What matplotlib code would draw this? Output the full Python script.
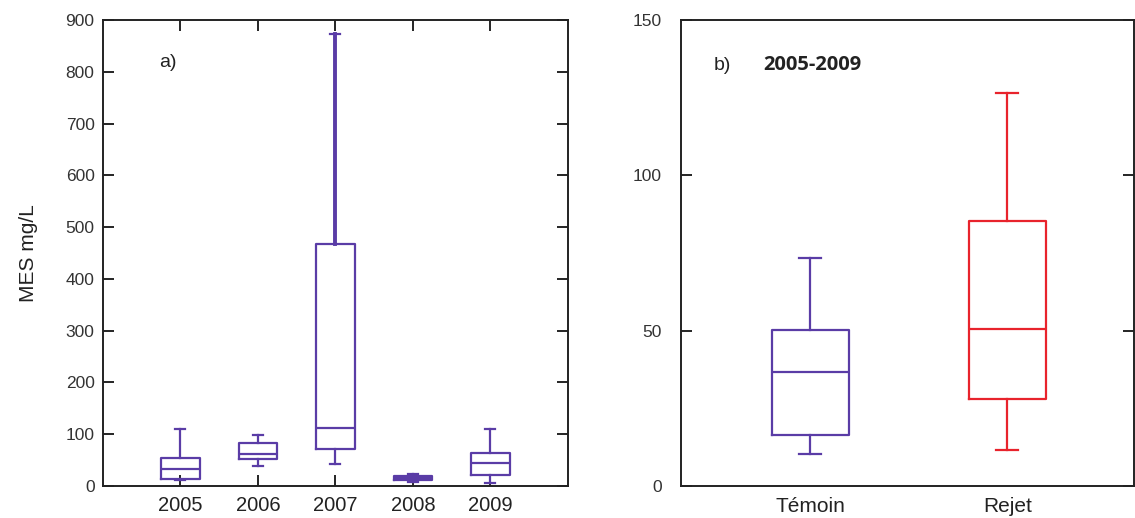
import matplotlib
matplotlib.use("Agg")
import matplotlib.pyplot as plt

# ---- data ----
years = ["2005", "2006", "2007", "2008", "2009"]
a_whislo = [11, 39, 43, 8, 5]
a_q1 = [14, 52, 71, 11, 21]
a_med = [33, 61, 112, 15, 44]
a_q3 = [54, 83, 468, 19, 64]
a_whishi = [111, 98, 872, 24, 111]

groups = ["Témoin", "Rejet"]
b_whislo = [10.2, 11.5]
b_q1 = [16.3, 28.1]
b_med = [36.7, 50.5]
b_q3 = [50.2, 85.4]
b_whishi = [73.3, 126.6]

purple = "#5a3ca6"
red = "#e8232c"

plt.rcParams['font.family'] = ['Liberation Sans', 'DejaVu Sans']

fig = plt.figure(figsize=(11.35, 5.18), dpi=100)
axa = fig.add_axes([0.0907, 0.0618, 0.4097, 0.8996])
axb = fig.add_axes([0.600, 0.0618, 0.3995, 0.8996])


def stats(lo, q1, med, q3, hi, labels):
    return [dict(whislo=l, q1=a, med=m, q3=b, whishi=h, label=lab, fliers=[])
            for l, a, m, b, h, lab in zip(lo, q1, med, q3, hi, labels)]


# ---- panel a ----
sa = stats(a_whislo, a_q1, a_med, a_q3, a_whishi, years)
posa = list(range(1, len(years) + 1))
res = axa.bxp(sa, positions=posa, widths=0.5, showfliers=False, capwidths=0.13,
              boxprops=dict(color=purple, lw=1.6),
              medianprops=dict(color=purple, lw=1.6),
              whiskerprops=dict(color=purple, lw=1.6),
              capprops=dict(color=purple, lw=1.6))
# the long upper whisker of 2007 is drawn heavier in the original
res['whiskers'][2 * 2 + 1].set_linewidth(2.8)
axa.set_xlim(0, 6)
axa.set_ylim(0, 900)
axa.set_yticks(range(0, 901, 100))
axa.set_xticks(posa)
axa.set_xticklabels(years, fontsize=14.5, color="#222222")
axa.tick_params(axis='y', labelsize=12.5, labelcolor="#333333")
axa.tick_params(direction='in', length=8, width=1.2, top=True, right=True, pad=6)
axa.tick_params(axis='x', pad=7)
axa.set_ylabel("MES mg/L", fontsize=15, color="#222222", labelpad=20)
axa.text(0.72, 817, "a)", fontsize=14, color="#222222", va='center')

# ---- panel b ----
sb = stats(b_whislo, b_q1, b_med, b_q3, b_whishi, groups)
posb = [1, 2]
colors_b = [purple, red]
for p, s, c in zip(posb, sb, colors_b):
    axb.bxp([s], positions=[p], widths=0.39, showfliers=False, capwidths=0.11,
            boxprops=dict(color=c, lw=1.6),
            medianprops=dict(color=c, lw=1.6),
            whiskerprops=dict(color=c, lw=1.6),
            capprops=dict(color=c, lw=1.6))
axb.set_xlim(0.345, 2.645)
axb.set_ylim(0, 150)
axb.set_yticks([0, 50, 100, 150])
axb.set_xticks(posb)
axb.set_xticklabels(groups, fontsize=15, color="#222222")
axb.tick_params(axis='y', labelsize=12.5, labelcolor="#333333")
axb.tick_params(axis='y', direction='in', length=8, width=1.2, right=True, pad=14)
axb.tick_params(axis='x', length=0, pad=8)
axb.text(0.51, 135.5, "b)", fontsize=14, color="#222222", va='center')
axb.text(0.76, 135.5, "2005-2009", fontsize=14.5, fontweight='bold',
         family=['Open Sans', 'DejaVu Sans'], color="#222222", va='center')

for ax in (axa, axb):
    for sp in ax.spines.values():
        sp.set_linewidth(1.4)
        sp.set_color("#222222")

fig.savefig("out.png", dpi=100)
